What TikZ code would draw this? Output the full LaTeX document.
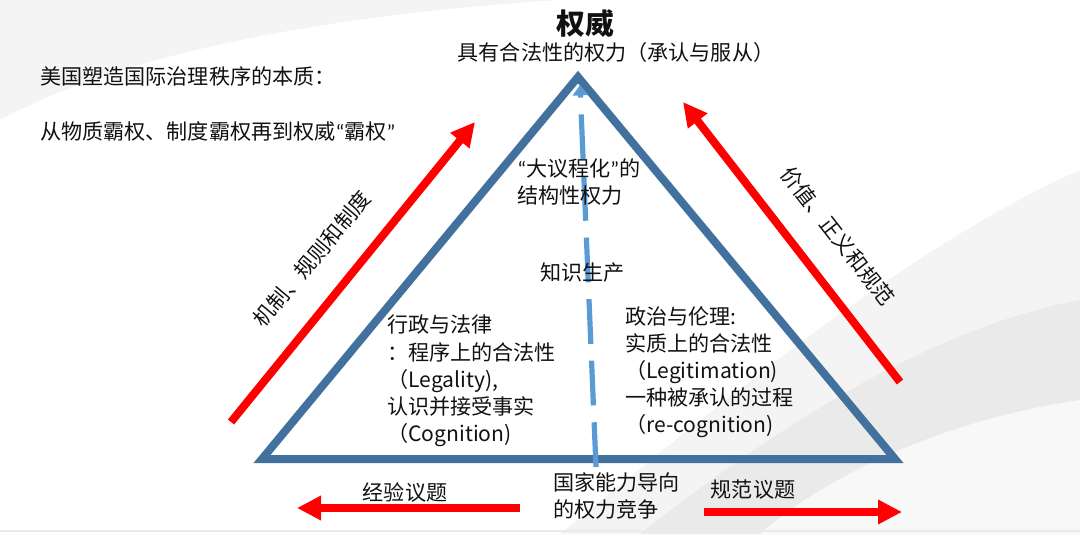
\documentclass[tikz,border=0pt]{standalone}
\usepackage{fontspec}
\setmainfont{Noto Sans CJK SC}
\newfontfamily\auquote{Carlito}
\usetikzlibrary{arrows.meta}
\definecolor{auline}{HTML}{41719C}
\definecolor{audash}{HTML}{5B9BD5}
\definecolor{aured}{HTML}{FF0000}
\definecolor{auink}{HTML}{111111}
\definecolor{aubgA}{HTML}{F4F4F4}
\definecolor{aubgB}{HTML}{EAEAEA}
\tikzset{
  autri/.style={draw=auline, line width=0.2cm, line join=miter},
  audashed/.style={
    draw=audash, line width=0.13cm, dash pattern=on 1.12cm off 0.42cm,
    -{Triangle[length=0.26cm, width=0.38cm]}},
  auarrow/.style={draw=aured, line width=0.2cm,
    -{Triangle[length=0.6cm, width=0.58cm]}},
  autext/.style={font=\fontsize{15pt}{19.3pt}\selectfont, text=auink,
    inner sep=0pt},
  aublock/.style={autext, align=left, anchor=west},
  autitle/.style={font=\fontsize{20.5pt}{24pt}\selectfont\bfseries,
    text=auink, inner sep=0pt},
}

\begin{document}
\begin{tikzpicture}[x=0.025cm, y=-0.025cm]
\useasboundingbox (0,0) rectangle (1080,534);

% Background swooshes.
\fill[aubgA] (0,0) -- (560,0) .. controls (320,15) and (120,55) .. (0,120)
  -- cycle;
\fill[aubgA] (1080,170) .. controls (900,250) and (700,420) .. (560,534)
  -- (1080,534) -- cycle;
\fill[aubgB] (1080,300) .. controls (920,330) and (760,440) .. (640,534)
  -- (1080,534) -- cycle;
\fill[aubgA!60!white] (1080,400) .. controls (940,420) and (820,480)
  .. (760,534) -- (1080,534) -- cycle;
\draw[aubgB, line width=1pt] (0,531) -- (1080,531);

% Header.
\node[autitle] (authority) at (585,23) {权威};
\node[autext] (legit) at (616,52) {具有合法性的权力（承认与服从）};
\node[autext, anchor=west] (essence) at (40,76)
  {美国塑造国际治理秩序的本质：};
\node[autext, anchor=west] (path) at (40,131)
  {从物质霸权、制度霸权再到权威{\auquote “}霸权{\auquote ”}};

% Triangle of power.
\coordinate (apex) at (578,77);
\coordinate (bl) at (262,459);
\coordinate (br) at (895,459);
\draw[autri] (bl) -- (apex) -- (br) -- cycle;

% Knowledge production axis.
\coordinate (kbase) at (596,467);
\coordinate (ktip) at (580,85);
\draw[audashed] (kbase) -- (ktip);

% Red arrows round the triangle.
\coordinate (mechlo) at (231,422);
\coordinate (mechhi) at (475,122);
\draw[auarrow] (mechlo) -- (mechhi);
\coordinate (valuelo) at (900,382);
\coordinate (valuehi) at (683,102);
\draw[auarrow] (valuelo) -- (valuehi);
\coordinate (empfrom) at (520,508);
\coordinate (empto) at (297,508);
\draw[auarrow] (empfrom) -- (empto);
\coordinate (normfrom) at (704,512);
\coordinate (normto) at (902,512);
\draw[auarrow] (normfrom) -- (normto);

% Side labels.
\node[autext, rotate=50] (mechlab) at (312,259) {机制、规则和制度};
\node[autext, rotate=-52] (valuelab) at (838,236) {价值、正义和规范};
\node[autext] (emplab) at (405,492) {经验议题};
\node[autext] (normlab) at (753,490) {规范议题};

% Inside the triangle.
\node[aublock] (agenda) at (517,182)
  {{\auquote “}大议程化{\auquote ”}的\\结构性权力};
\node[autext, anchor=west] (know) at (540,273) {知识生产};
\node[aublock] (legal) at (387,381)
  {行政与法律\\：程序上的合法性\\（Legality),\\认识并接受事实\\（Cognition)};
\node[aublock] (ethic) at (625,372)
  {政治与伦理:\\实质上的合法性\\（Legitimation)\\一种被承认的过程\\（re-cognition)};
\node[aublock] (state) at (553,496) {国家能力导向\\的权力竞争};

\end{tikzpicture}
\end{document}
